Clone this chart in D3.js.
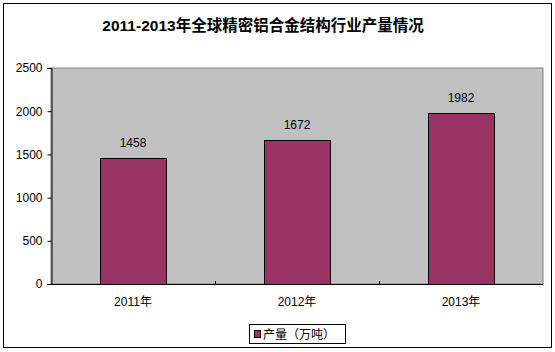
<!DOCTYPE html>
<html>
<head>
<meta charset="utf-8">
<script src="https://cdn.jsdelivr.net/npm/d3@7"></script>
<style>
  body { margin: 0; background: #fff; }
  text { font-family: Arial, "Liberation Sans", "Noto Sans CJK SC", sans-serif; }
</style>
</head>
<body>
<script>
// chart data
var years = ["2011年", "2012年", "2013年"];
var output = [1458, 1672, 1982];
var yTicks = [0, 500, 1000, 1500, 2000, 2500];
var title = "2011-2013年全球精密铝合金结构行业产量情况";
var seriesName = "产量（万吨）";

var w = 555, h = 352;
// plot area edges (note: "top" is reserved on window)
var pLeft = 51, pRight = 543, pTop = 68, pBottom = 284;

var svg = d3.select("body").append("svg")
  .attr("width", w)
  .attr("height", h);

// outer frame
svg.append("rect")
  .attr("x", 3.5).attr("y", 3.5)
  .attr("width", 548).attr("height", 344)
  .attr("fill", "#fff").attr("stroke", "#000");

svg.append("text")
  .attr("x", 263).attr("y", 31)
  .attr("text-anchor", "middle")
  .attr("font-size", 15.5).attr("font-weight", "bold")
  .text(title);

var x = d3.scaleBand().domain(years).range([pLeft, pRight]).paddingInner(0.6).paddingOuter(0.3);
var xb = d3.scaleBand().domain(years).range([pLeft, pRight]);
var y = d3.scaleLinear().domain([0, 2500]).range([pBottom, pTop]);

// plot area
svg.append("rect")
  .attr("x", pLeft).attr("y", pTop)
  .attr("width", pRight - pLeft).attr("height", pBottom - pTop)
  .attr("fill", "#c0c0c0").attr("stroke", "#808080");

// bars
svg.selectAll("rect.bar")
  .data(output)
  .enter().append("rect")
  .attr("class", "bar")
  .attr("x", function(d, i) { return Math.round(x(years[i])) + 0.5; })
  .attr("y", function(d) { return Math.round(y(d)) + 0.5; })
  .attr("width", Math.round(x.bandwidth()))
  .attr("height", function(d) { return Math.round(pBottom - y(d)); })
  .attr("fill", "#993366").attr("stroke", "#000");

// value labels
svg.selectAll("text.val")
  .data(output)
  .enter().append("text")
  .attr("class", "val")
  .attr("x", function(d, i) { return x(years[i]) + x.bandwidth() / 2; })
  .attr("y", function(d) { return y(d) - 11; })
  .attr("text-anchor", "middle")
  .attr("font-size", 12)
  .text(function(d) { return d; });

// y axis
var yAxis = d3.axisLeft(y).tickValues(yTicks).tickSize(4).tickPadding(5).tickFormat(d3.format("d"));
var gy = svg.append("g").attr("transform", "translate(" + (pLeft + 0.5) + ",0)").call(yAxis);
gy.selectAll("text").attr("font-size", 12).attr("fill", "#000").style("font-family", "Arial, 'Liberation Sans', sans-serif");
gy.select(".domain").attr("stroke", "#000");

// x axis line + ticks at band edges
svg.append("line")
  .attr("x1", pLeft).attr("x2", pRight)
  .attr("y1", pBottom + 0.5).attr("y2", pBottom + 0.5)
  .attr("stroke", "#000");
svg.selectAll("line.xt")
  .data(years.slice(1))
  .enter().append("line")
  .attr("class", "xt")
  .attr("x1", function(d) { return Math.round(xb(d)) + 0.5; })
  .attr("x2", function(d) { return Math.round(xb(d)) + 0.5; })
  .attr("y1", pBottom - 3).attr("y2", pBottom)
  .attr("stroke", "#000");

svg.selectAll("text.cat")
  .data(years)
  .enter().append("text")
  .attr("class", "cat")
  .attr("x", function(d) { return xb(d) + xb.bandwidth() / 2; })
  .attr("y", 306)
  .attr("text-anchor", "middle")
  .attr("font-size", 12)
  .style("font-family", "'Liberation Sans', 'Noto Sans CJK SC', sans-serif")
  .text(function(d) { return d; });

// legend
var lg = svg.append("g");
lg.append("rect")
  .attr("x", 249.5).attr("y", 324.5)
  .attr("width", 96).attr("height", 19)
  .attr("fill", "#fff").attr("stroke", "#000");
lg.append("rect")
  .attr("x", 254.5).attr("y", 330.5)
  .attr("width", 6).attr("height", 7)
  .attr("fill", "#993366").attr("stroke", "#000");
lg.append("text")
  .attr("x", 263).attr("y", 339)
  .attr("font-size", 12)
  .style("font-family", "'Noto Sans CJK SC', sans-serif")
  .text(seriesName);
</script>
</body>
</html>
